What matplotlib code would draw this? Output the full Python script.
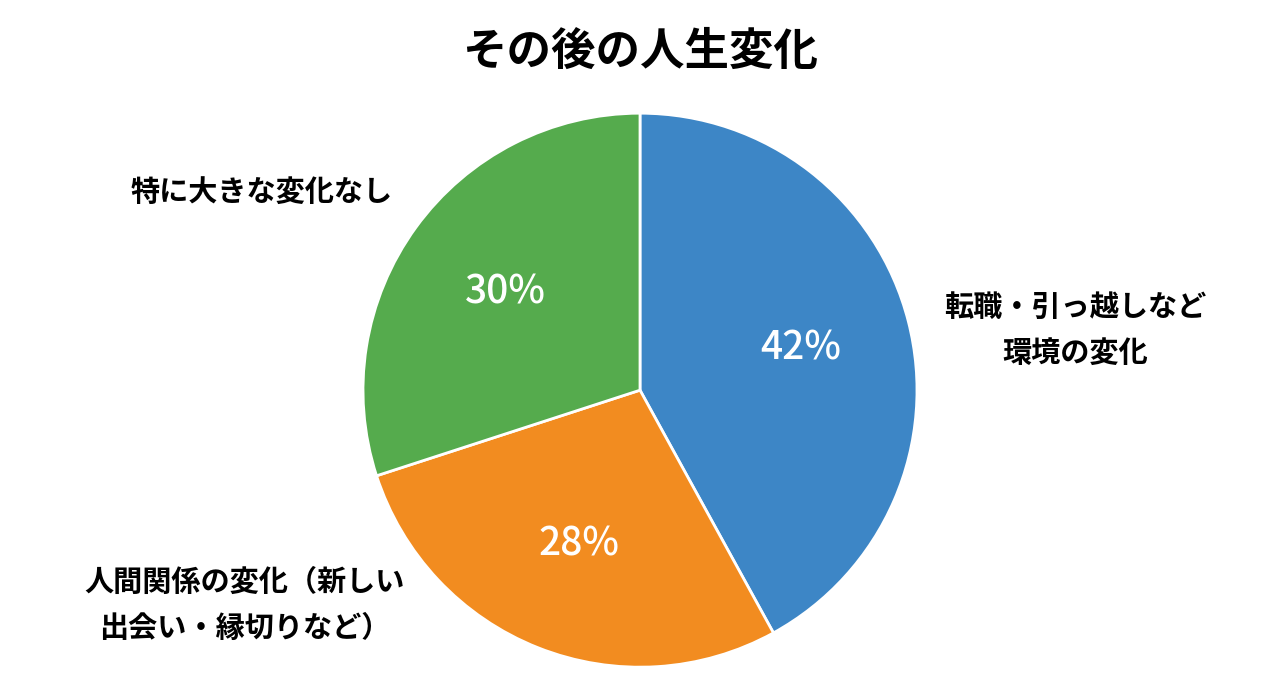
import matplotlib.pyplot as plt

plt.rcParams['font.family'] = ['Noto Sans CJK JP', 'DejaVu Sans']

labels = ['転職・引っ越しなど\n環境の変化', '人間関係の変化（新しい\n出会い・縁切りなど）', '特に大きな変化なし']
values = [42, 28, 30]
colors = ['#3d86c6', '#f28c20', '#55ab4d']

fig = plt.figure(figsize=(12.8, 6.98), dpi=100)
ax = fig.add_axes([0.5 - 0.2164, 0.441 - 0.397, 0.4328, 0.794])
wedges, texts, autotexts = ax.pie(values, colors=colors, startangle=90, counterclock=False,
                                  autopct='%d%%', pctdistance=0.6,
                                  wedgeprops=dict(edgecolor='white', linewidth=2))
for t in autotexts:
    t.set_color('white')
    t.set_fontsize(28)
    t.set_fontweight('medium')
ax.set_xlim(-1, 1)
ax.set_ylim(-1, 1)
ax.set_aspect('equal')

fig.text(0.5, 0.925, 'その後の人生変化', ha='center', va='center', fontsize=32, fontweight='bold')
fig.text(1075 / 1280, 1 - 330 / 698, labels[0], ha='center', va='center', fontsize=21,
         fontweight='bold', linespacing=1.7)
fig.text(245 / 1280, 1 - 605 / 698, labels[1], ha='center', va='center', fontsize=21,
         fontweight='bold', linespacing=1.7)
fig.text(262 / 1280, 1 - 192 / 698, labels[2], ha='center', va='center', fontsize=21,
         fontweight='bold')

fig.savefig('out.png', dpi=100)
